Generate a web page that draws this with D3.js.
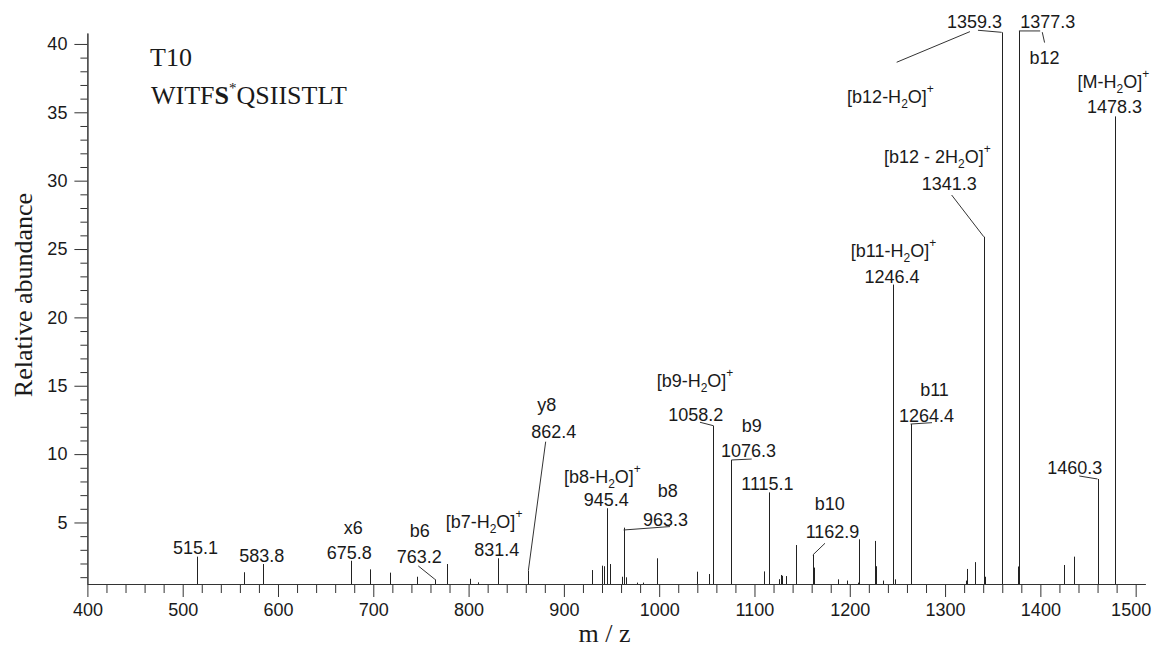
<!DOCTYPE html>
<html><head><meta charset="utf-8">
<script src="https://cdn.jsdelivr.net/npm/d3@7"></script>
<style>body{margin:0;background:#fff} svg{display:block}</style>
</head><body>
<svg id="chart" width="1152" height="653"></svg>
<script>
// ---- data (m/z, relative abundance) ----
const peakMz = [515.3, 564.6, 584.6, 676.3, 696.5, 718.0, 745.5, 764.7, 777.5, 801.5, 809.5, 831.2, 862.7,
  929.0, 940.5, 942.0, 945.6, 948.6, 960.8, 962.6, 965.5, 976.4, 983.3, 997.6, 1040.2, 1052.3, 1056.8,
  1075.8, 1110.2, 1115.1, 1125.7, 1127.5, 1129.2, 1133.0, 1143.7, 1161.2, 1162.6, 1188.0, 1197.6, 1209.0,
  1210.2, 1226.8, 1228.0, 1234.5, 1244.9, 1247.6, 1263.8, 1321.7, 1323.3, 1331.2, 1340.6, 1342.0, 1359.4,
  1376.2, 1377.5, 1424.8, 1435.4, 1460.0, 1478.5];
const peakAbundance = [2.5, 1.36, 1.96, 2.2, 1.57, 1.33, 1.03, 0.84, 1.96, 0.88, 0.62, 2.38, 1.47,
  1.52, 1.84, 1.8, 6.04, 1.96, 1.03, 4.62, 0.99, 0.6, 0.6, 2.38, 1.4, 1.23, 12.08,
  9.57, 1.42, 7.2, 0.85, 1.16, 1.1, 1.08, 3.35, 2.62, 1.7, 0.84, 0.75, 0.6,
  3.77, 3.65, 1.8, 0.75, 22.4, 0.84, 12.2, 0.75, 1.6, 2.1, 25.9, 1.03, 40.85,
  1.78, 40.95, 1.89, 2.5, 8.18, 34.7];
const xTickValues = [400, 500, 600, 700, 800, 900, 1000, 1100, 1200, 1300, 1400, 1500];
const yTickValues = [5, 10, 15, 20, 25, 30, 35, 40];
const xTitle = "m / z";
const yTitle = "Relative abundance";
const titleLine1 = "T10";
const sequence = ["WITF", "S", "*", "QSIISTLT"];

// peak annotations, anchored in data coordinates (m/z, abundance)
const annotations = [
 {text:"515.1", at:[513.5,2.69]},
 {text:"583.8", at:[582.9,2.13]},
 {text:"675.8", at:[674.8,2.33], ion:"x6", ionAt:[679,4.16]},
 {text:"763.2", at:[748.3,2.06], ion:"b6", ionAt:[748.7,3.92], leaders:[[[764.7,0.84],[747.2,1.82]]]},
 {text:"831.4", at:[829.5,2.55], ion:"[b7-H_{2}O]^{+}", ionAt:[816.2,4.57]},
 {text:"862.4", at:[889.4,11.16], ion:"y8", ionAt:[882.1,13.15], leaders:[[[862.7,1.47],[880.9,10.91]]]},
 {text:"945.4", at:[944.5,6.2], ion:"[b8-H_{2}O]^{+}", ionAt:[940.5,7.87]},
 {text:"963.3", at:[1006.6,4.76], ion:"b8", ionAt:[1008.9,6.89], leaders:[[[962.7,4.45],[1011.3,4.7]]]},
 {text:"1058.2", at:[1038.4,12.44], ion:"[b9-H_{2}O]^{+}", ionAt:[1037.6,14.89], leaders:[[[1042.8,12.33],[1056.8,12.08]]]},
 {text:"1076.3", at:[1093.7,9.77], ion:"b9", ionAt:[1097.1,11.6], leaders:[[[1075.8,9.57],[1097.1,9.64]]]},
 {text:"1115.1", at:[1113.6,7.38]},
 {text:"1162.9", at:[1181.9,3.84], ion:"b10", ionAt:[1178.9,5.91], leaders:[[[1161.2,2.62],[1174,3.48]]]},
 {text:"1246.4", at:[1244.3,22.54], ion:"[b11-H_{2}O]^{+}", ionAt:[1245.9,24.42]},
 {text:"1264.4", at:[1280.5,12.37], ion:"b11", ionAt:[1288.9,14.27], leaders:[[[1263.8,12.2],[1286.3,12.3]]]},
 {text:"1341.3", at:[1304.3,29.32], ion:"[b12 - 2H_{2}O]^{+}", ionAt:[1292,31.29], leaders:[[[1340.6,25.9],[1306.9,28.95]]]},
 {text:"1359.3", at:[1330.8,41.17], ion:"[b12-H_{2}O]^{+}", ionAt:[1242.7,35.68], leaders:[[[1334.5,41.0],[1359.4,40.85]],[[1326.1,40.9],[1249.2,38.66]]]},
 {text:"1377.3", at:[1407.8,41.17], ion:"b12", ionAt:[1404.4,38.53], leaders:[[[1377.5,40.95],[1399.8,40.95]],[[1402,40.86],[1404.4,40.1]]]},
 {text:"1460.3", at:[1436.1,8.55], leaders:[[[1440.8,8.4],[1460.0,8.18]]]},
 {text:"1478.3", at:[1477.8,34.95], ion:"[M-H_{2}O]^{+}", ionAt:[1476.7,36.78]}
];

// ---- drawing ----
const sans = "'Liberation Sans', Arial, Helvetica, sans-serif";
const serif = "'Liberation Serif', 'Times New Roman', Times, serif";
const ink = "#1a1a1a";
const svg = d3.select("#chart");
svg.append("rect").attr("width",1152).attr("height",653).attr("fill","#fff");

const x = d3.scaleLinear().domain([400, 1510]).range([87.4, 1145.2]);
const y = d3.scaleLinear().domain([0.5, 40.8]).range([584, 33]);

function styleAxis(g){
  g.selectAll("path,line").attr("stroke","#333").attr("stroke-width",1);
  g.selectAll("text").attr("font-family",sans).attr("font-size",18).attr("fill",ink);
}

// x axis: minor then major
const minorX = d3.range(400, 1511, 20).filter(v => v % 100 !== 0);
svg.append("g").attr("transform",`translate(0,${y(0.5)})`)
  .call(d3.axisBottom(x).tickValues(minorX).tickSize(9).tickSizeOuter(0).tickFormat(""))
  .call(styleAxis);
const gxMajor = svg.append("g").attr("transform",`translate(0,${y(0.5)})`)
  .call(d3.axisBottom(x).tickValues(xTickValues).tickSize(13).tickSizeOuter(0).tickPadding(6).tickFormat(d3.format("d")))
  .call(styleAxis);
// keep the last tick label inside the picture
gxMajor.selectAll(".tick text").filter(d => d === xTickValues[xTickValues.length - 1])
  .attr("text-anchor","end").attr("x", 15);

// y axis: minor then major
const minorY = d3.range(1, 41).filter(v => v % 5 !== 0);
svg.append("g").attr("transform",`translate(${x(400)},0)`)
  .call(d3.axisLeft(y).tickValues(minorY).tickSize(7).tickSizeOuter(0).tickFormat(""))
  .call(styleAxis);
svg.append("g").attr("transform",`translate(${x(400)},0)`)
  .call(d3.axisLeft(y).tickValues(yTickValues).tickSize(13).tickSizeOuter(0).tickPadding(7).tickFormat(d3.format("d")))
  .call(styleAxis);

// peaks
svg.append("g").selectAll("line")
  .data(d3.zip(peakMz, peakAbundance))
  .join("line")
  .attr("x1", d => Math.round(x(d[0])) + 0.5).attr("x2", d => Math.round(x(d[0])) + 0.5)
  .attr("y1", y(0.5)).attr("y2", d => y(d[1]))
  .attr("stroke", "#222").attr("stroke-width", 1);

// rich text helper: _{sub} and ^{sup}
function richText(sel, str){
  const parts = str.split(/(_\{[^}]*\}|\^\{[^}]*\})/).filter(s => s.length);
  let shift = 0;
  parts.forEach(p => {
    let t = p, target = 0, size = null;
    if (p.startsWith("_{")) { t = p.slice(2,-1); target = 5; size = 12; }
    else if (p.startsWith("^{")) { t = p.slice(2,-1); target = -10; size = 12; }
    const ts = sel.append("tspan").text(t).attr("dy", target - shift);
    if (size) ts.attr("font-size", size);
    shift = target;
  });
}

const ann = svg.append("g");
annotations.forEach(a => {
  (a.leaders || []).forEach(seg => {
    ann.append("line")
      .attr("x1", x(seg[0][0])).attr("y1", y(seg[0][1]))
      .attr("x2", x(seg[1][0])).attr("y2", y(seg[1][1]))
      .attr("stroke", "#333").attr("stroke-width", 1);
  });
  ann.append("text").attr("x", x(a.at[0])).attr("y", y(a.at[1]))
    .attr("text-anchor","middle").attr("font-family",sans).attr("font-size",18).attr("fill",ink)
    .text(a.text);
  if (a.ion) {
    const t = ann.append("text").attr("x", x(a.ionAt[0])).attr("y", y(a.ionAt[1]))
      .attr("text-anchor","middle").attr("font-family",sans).attr("font-size",18).attr("fill",ink);
    richText(t, a.ion);
  }
});

// in-plot title
svg.append("text").attr("x",150).attr("y",66).attr("font-family",serif).attr("font-size",26).attr("fill",ink).text(titleLine1);
const seq = svg.append("text").attr("x",151).attr("y",104).attr("font-family",serif).attr("font-size",26).attr("fill",ink);
seq.append("tspan").text(sequence[0]);
seq.append("tspan").text(sequence[1]).attr("font-weight","bold");
seq.append("tspan").text(sequence[2]).attr("font-size",15).attr("dy",-11);
seq.append("tspan").text(sequence[3]).attr("dy",11);

// axis titles
svg.append("text").attr("x", 604.5).attr("y", 642)
  .attr("text-anchor","middle").attr("font-family",serif).attr("font-size",26).attr("fill",ink).text(xTitle);
svg.append("text").attr("transform","translate(32,295) rotate(-90)")
  .attr("text-anchor","middle").attr("font-family",serif).attr("font-size",26).attr("fill",ink).text(yTitle);
</script>
</body></html>
